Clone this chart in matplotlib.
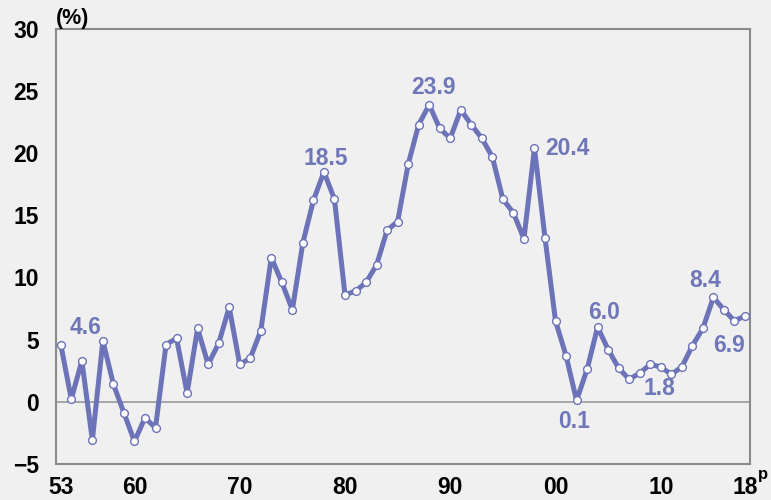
import numpy as np
import matplotlib
matplotlib.use("Agg")
import matplotlib.pyplot as plt

plt.rcParams['font.family'] = ['Liberation Sans', 'DejaVu Sans']

# Datos
anios = np.arange(1953, 2019)
tasa = [4.6, 0.2, 3.3, -3.1, 4.9, 1.4, -0.9, -3.2, -1.3, -2.1,
        4.6, 5.1, 0.7, 5.9, 3.0, 4.7, 7.6, 3.0, 3.5, 5.7,
        11.6, 9.6, 7.4, 12.8, 16.2, 18.5, 16.3, 8.6, 8.9, 9.6,
        11.0, 13.8, 14.5, 19.1, 22.3, 23.9, 22.0, 21.2, 23.5, 22.3,
        21.2, 19.7, 16.3, 15.2, 13.1, 20.4, 13.2, 6.5, 3.7, 0.1,
        2.6, 6.0, 4.2, 2.7, 1.8, 2.3, 3.0, 2.8, 2.2, 2.8,
        4.5, 5.9, 8.4, 7.4, 6.5, 6.9]

ticks_x = [1953, 1960, 1970, 1980, 1990, 2000, 2010, 2018]
etiquetas_x = ["53", "60", "70", "80", "90", "00", "10", "18"]
ticks_y = [-5, 0, 5, 10, 15, 20, 25, 30]

# anios rotulados y desplazamiento del texto (pixeles)
rotulos = [1953, 1978, 1988, 1998, 2002, 2004, 2007, 2015, 2018]
desp = [(25, 17), (2, 13), (4, 17), (33, 0), (-3, -21),
        (6, 15), (30, -9), (-8, 17), (-16, -30)]

azul = "#6c73b8"
azul_txt = "#7077b9"
fondo = "#f0f0f0"

fig = plt.figure(figsize=(7.71, 5.0), dpi=100, facecolor=fondo)
ax = fig.add_axes([0.072, 0.0724, 0.9004, 0.8696], facecolor=fondo)

ax.axhline(0, color="#999999", lw=1.2, zorder=1)
ax.plot(anios, tasa, "-o", color=azul, lw=3.6, ms=5.6,
        mfc="white", mec=azul, mew=1.0, zorder=3)

for a, (dx, dy) in zip(rotulos, desp):
    v = tasa[a - 1953]
    ax.annotate(f"{v:.1f}", xy=(a, v), xytext=(dx, dy),
                textcoords="offset pixels", ha="center", va="center",
                fontsize=16.5, fontweight="bold", color=azul_txt, zorder=4)

ax.set_xlim(1952.5, 2018.45)
ax.set_ylim(-5, 30)
ax.set_xticks(ticks_x)
ax.set_xticklabels(etiquetas_x)
ax.set_yticks(ticks_y)
ax.set_yticklabels([str(t).replace("-", "\u2212") for t in ticks_y])
ax.tick_params(length=0, labelsize=16.5, pad=12)
for lab in ax.get_xticklabels() + ax.get_yticklabels():
    lab.set_fontweight("bold")
ax.tick_params(axis="x", pad=9)

for s in ax.spines.values():
    s.set_color("#8a8a8a")
    s.set_linewidth(1.5)

ax.text(0.0, 1.0, "(%)", transform=ax.transAxes, ha="left", va="bottom",
        fontsize=15.5, fontweight="bold")
# superindice de dato preliminar
ax.annotate("p", xy=(2018, -5), xytext=(18, -11), textcoords="offset pixels",
            ha="center", va="center", fontsize=12, fontweight="bold",
            annotation_clip=False)

fig.savefig("out.png", dpi=100, facecolor=fondo)
